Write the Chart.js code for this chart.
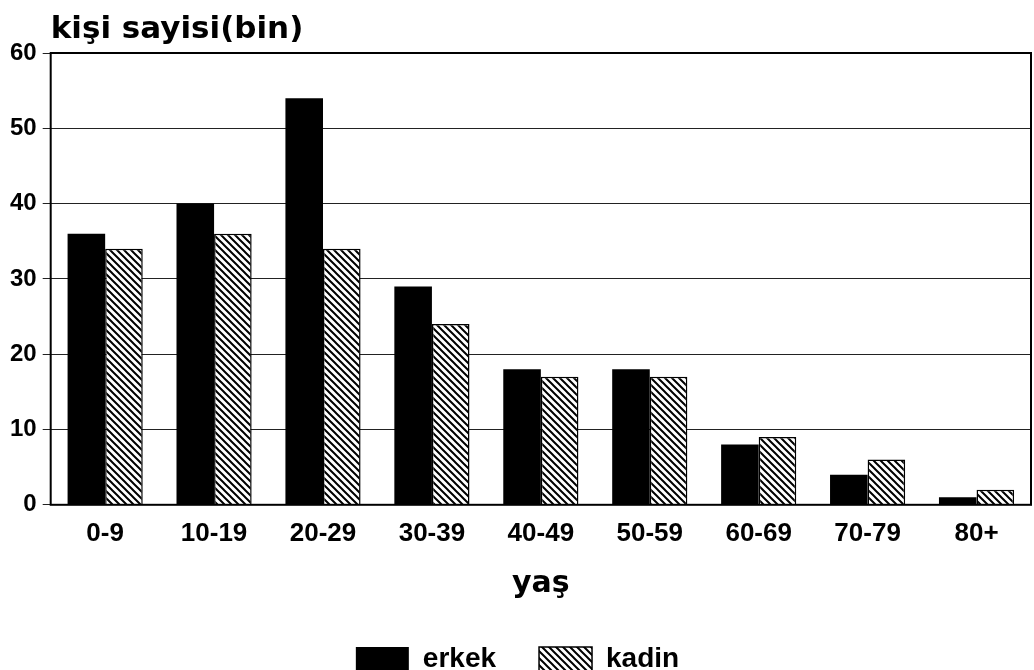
<!DOCTYPE html>
<html>
<head>
<meta charset="utf-8">
<script src="https://cdn.jsdelivr.net/npm/chart.js@4/dist/chart.umd.min.js"></script>
<style>
  body { margin: 0; background: #fff; }
  #wrap { width: 1034px; height: 670px; }
</style>
</head>
<body>
<div id="wrap"><canvas id="chart" width="1034" height="670"></canvas></div>
<script>
const ageGroups = ['0-9', '10-19', '20-29', '30-39', '40-49', '50-59', '60-69', '70-79', '80+'];
const erkek = [36, 40, 54, 29, 18, 18, 8, 4, 1];
const kadin = [34, 36, 34, 24, 17, 17, 9, 6, 2];
const yTicks = [0, 10, 20, 30, 40, 50, 60];

const FONT = '"Liberation Sans", Arial, sans-serif';
const WIDE = '"DejaVu Sans", sans-serif';

// hatch pattern: diagonal lines top-left to bottom-right
function makeHatch() {
    const c = document.createElement('canvas');
    c.width = 7; c.height = 7;
    const g = c.getContext('2d');
    g.fillStyle = '#fff';
    g.fillRect(0, 0, 7, 7);
    g.strokeStyle = '#000';
    g.lineWidth = 2;
    g.beginPath();
    g.moveTo(-1, -1); g.lineTo(8, 8);
    g.moveTo(-8, -1); g.lineTo(1, 8);
    g.moveTo(6, -1); g.lineTo(15, 8);
    g.stroke();
    return g.createPattern(c, 'repeat');
}

const frameAndTitle = {
    id: 'frameAndTitle',
    afterDraw(chart) {
        const a = chart.chartArea;
        const ctx = chart.ctx;
        ctx.save();
        ctx.strokeStyle = '#000';
        ctx.lineWidth = 2;
        ctx.strokeRect(a.left, a.top, a.right - a.left, a.bottom - a.top);
        ctx.fillStyle = '#000';
        ctx.font = 'bold 31px ' + WIDE;
        ctx.textBaseline = 'alphabetic';
        ctx.fillText('kişi sayisi(bin)', a.left, 38);
        ctx.restore();
    }
};

document.addEventListener('DOMContentLoaded', function() {
    const ctx = document.getElementById('chart').getContext('2d');
    const hatch = makeHatch();

    new Chart(ctx, {
        type: 'bar',
        data: {
            labels: ageGroups,
            datasets: [
                {
                    label: 'erkek',
                    data: erkek,
                    backgroundColor: '#000',
                    borderColor: '#000',
                    borderWidth: 0
                },
                {
                    label: 'kadin',
                    data: kadin,
                    backgroundColor: hatch,
                    borderColor: '#000',
                    borderWidth: 1.5
                }
            ]
        },
        options: {
            responsive: false,
            animation: false,
            layout: { padding: { top: 53, right: 3, left: 4, bottom: 0 } },
            datasets: {
                bar: { categoryPercentage: 0.69, barPercentage: 1.0 }
            },
            scales: {
                x: {
                    grid: { display: false },
                    border: { display: false },
                    ticks: {
                        color: '#000',
                        padding: 5,
                        font: { family: FONT, size: 26, weight: 'bold' }
                    },
                    title: {
                        display: true,
                        text: 'yaş',
                        color: '#000',
                        padding: { top: 12, bottom: 0 },
                        font: { family: WIDE, size: 30, weight: 'bold' }
                    }
                },
                y: {
                    min: 0,
                    max: 60,
                    afterBuildTicks: axis => { axis.ticks = yTicks.map(v => ({ value: v })); },
                    grid: { color: '#222', lineWidth: 1, tickLength: 8 },
                    border: { display: false },
                    ticks: {
                        color: '#000',
                        padding: 6,
                        font: { family: FONT, size: 24, weight: 'bold' }
                    }
                }
            },
            plugins: {
                legend: {
                    position: 'bottom',
                    maxHeight: 68,
                    labels: {
                        color: '#000',
                        boxWidth: 53,
                        boxHeight: 24,
                        padding: 43,
                        font: { family: FONT, size: 28, weight: 'bold' }
                    }
                },
                tooltip: { enabled: false }
            }
        },
        plugins: [frameAndTitle]
    });
});
</script>
</body>
</html>
